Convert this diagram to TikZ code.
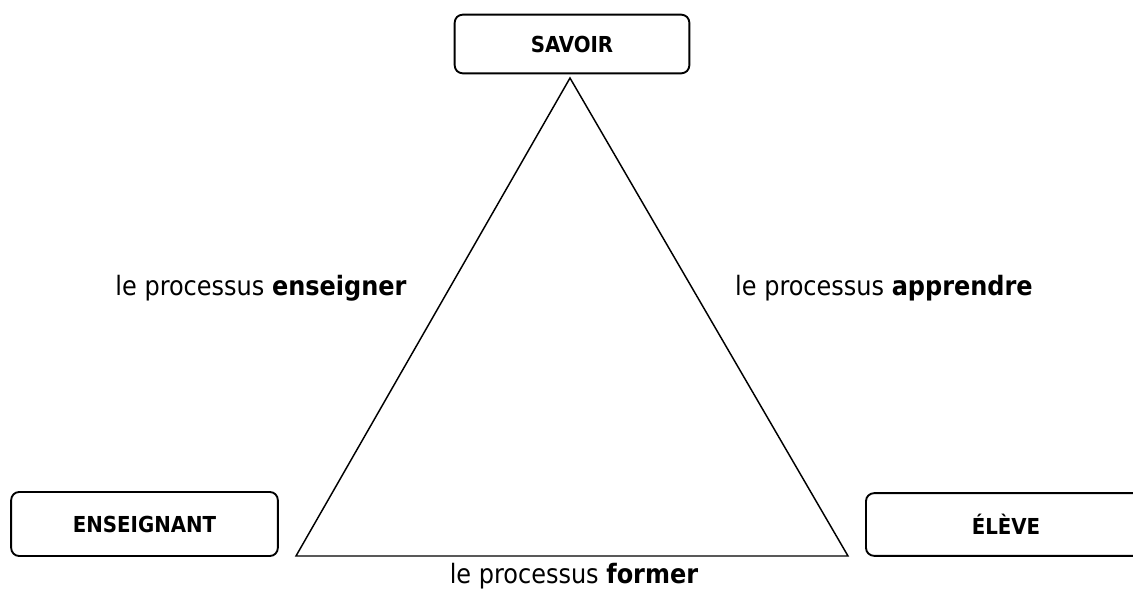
\documentclass[tikz,border=0pt]{standalone}
\usepackage{fontspec}
\setmainfont{DejaVu Sans Condensed}
\usetikzlibrary{positioning}

\begin{document}
\begin{tikzpicture}[x=0.75pt, y=-0.75pt]
        % Define styles
        \tikzset{
            pole/.style={draw, line width=1.4pt, rounded corners=6pt, minimum height=44pt,
                font=\fontsize{16.5}{20}\selectfont\bfseries},
            side/.style={line width=1.1pt, line join=miter},
            label/.style={font=\fontsize{20}{24}\selectfont}
        }
        \useasboundingbox (0,0) rectangle (1133,603);
        \clip (0,0) rectangle (1133,603);
        % The three poles
        \node[pole, minimum width=176pt] (savoir) at (572,44) {SAVOIR};
        \node[pole, minimum width=200pt, minimum height=48pt] (enseignant) at (144.5,524) {ENSEIGNANT};
        \node[pole, minimum width=210pt, minimum height=47pt] (eleve) at (1006,524.5) {ÉLÈVE};
        % Corners of the triangle
        \coordinate (top) at (570,78);
        \coordinate (left) at (296,556);
        \coordinate (right) at (848,556);
        \draw[side] (top) -- (left) -- (right) -- cycle;
        % The three processes
        \node[label] (enseigner) at (261,288) {le processus \textbf{enseigner}};
        \node[label] (apprendre) at (884,288) {le processus \textbf{apprendre}};
        \node[label] (former) at (574,576) {le processus \textbf{former}};
    \end{tikzpicture}
\end{document}
